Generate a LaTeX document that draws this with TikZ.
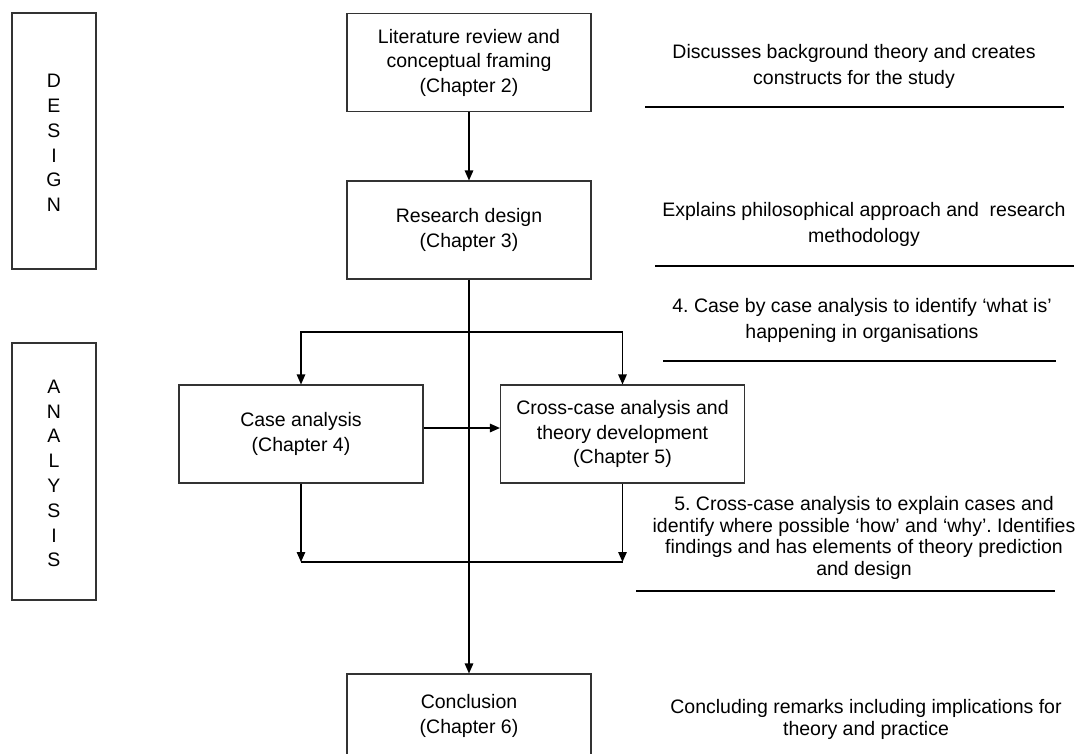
\documentclass[tikz,border=0pt]{standalone}
\usepackage{fontspec}
\setmainfont{Liberation Sans}
\usetikzlibrary{arrows.meta}
\frenchspacing
\begin{document}
\begin{tikzpicture}[x=1pt,y=-1pt,
  box/.style={draw=black!80, line width=1.1pt, minimum width=244pt, minimum height=98pt, inner sep=0pt, align=center, font=\fontsize{19.5}{24.5}\selectfont},
  boxtext/.style={inner sep=0pt, align=center, font=\fontsize{19.5}{24.5}\selectfont},
  side/.style={draw=black!80, line width=1.1pt, minimum width=84pt, inner sep=0pt, align=center, font=\fontsize{19.5}{24.8}\selectfont},
  note/.style={align=center, inner sep=0pt, font=\fontsize{19.5}{26}\selectfont},
  arr/.style={line width=1.3pt, -{Triangle[length=10pt,width=8.5pt]}},
  conn/.style={line width=1.3pt},
  rulel/.style={line width=1.8pt}]
\useasboundingbox (0,0) rectangle (1086,753);
\fill[white] (0,0) rectangle (1086,753);
\clip (0,0) rectangle (1086,753);

% side boxes
\node[side, minimum height=256pt] (design) at (54,141) {};
\node[side, draw=none, minimum height=0pt] (designtext) at (54,143) {D\\E\\S\\I\\G\\N};
\node[side, minimum height=257pt] (analysis) at (54,471.5) {};
\node[side, draw=none, minimum height=0pt] (analysistext) at (54,473.5) {A\\N\\A\\L\\Y\\S\\I\\S};

% main boxes
\node[box] (lit) at (469,62.5) {Literature review and\\conceptual framing\\(Chapter 2)};
\node[box] (rd) at (469,230) {Research design\\(Chapter 3)};
\node[box] (case) at (301,434) {Case analysis\\(Chapter 4)};
\node[box] (cross) at (622.5,434) {Cross-case analysis and\\theory development\\(Chapter 5)};
\node[box] (concl) at (469,723) {};
\node[boxtext] (concltext) at (469,716) {Conclusion\\(Chapter 6)};

% notes
\node[note] (n1) at (854,66) {Discusses background theory and creates\\constructs for the study};
\node[note] (n2) at (864,224) {Explains philosophical approach and\ \ research\\methodology};
\node[note] (n3) at (862,320) {4. Case by case analysis to identify ‘what is’\\happening in organisations};
\node[note, font=\fontsize{19.5}{21.4}\selectfont] (n5) at (864,538) {5. Cross-case analysis to explain cases and\\identify where possible ‘how’ and ‘why’. Identifies\\findings and has elements of theory prediction\\and design};
\node[note, font=\fontsize{19.5}{22}\selectfont] (n6) at (866,719) {Concluding remarks including implications for\\theory and practice};

% rules
\draw[rulel] (645,107) -- (1064,107);
\draw[rulel] (655,266) -- (1074,266);
\draw[rulel] (663,361) -- (1056,361);
\draw[rulel] (636,591) -- (1055,591);

% connectors
\draw[arr] (lit) -- (rd);
\draw[arr] (rd) -- (concl);
\coordinate (fork) at (469,332);
\draw[arr] (fork) -| (case.north);
\draw[arr] (fork) -| (cross.north);
\draw[arr] ([yshift=6pt]case.east) -- ([yshift=6pt]cross.west);
\coordinate (j1) at (301,562);
\coordinate (j2) at (622.5,562);
\draw[arr] (case.south) -- (j1);
\draw[arr] (cross.south) -- (j2);
\draw[conn] (j1) -- (j2);
\end{tikzpicture}
\end{document}
